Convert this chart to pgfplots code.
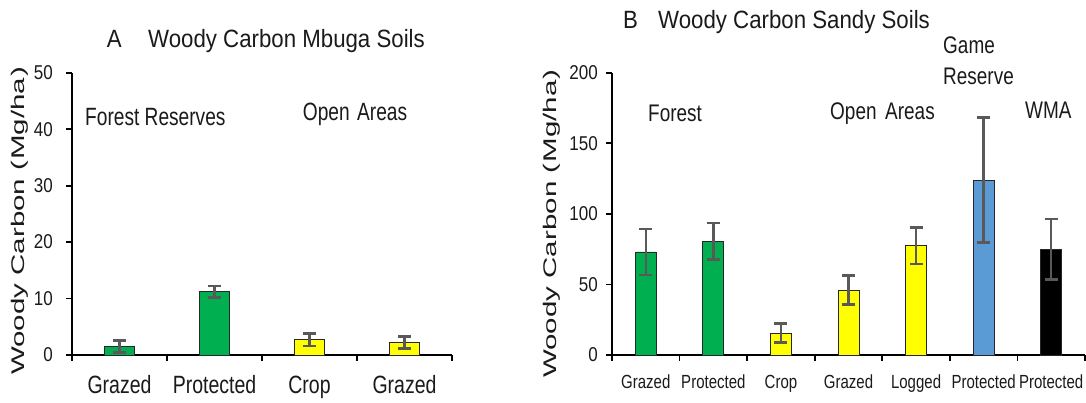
\documentclass[border=0pt]{standalone}
\usepackage{pgfplots}
\pgfplotsset{compat=1.18}
\usepackage{fontspec}
\setmainfont{Liberation Sans}
\usepackage{graphicx}

\definecolor{bgreen}{HTML}{00B050}
\definecolor{byellow}{HTML}{FFFF00}
\definecolor{bblue}{HTML}{5B9BD5}
\definecolor{errgray}{HTML}{595959}
\definecolor{txt}{HTML}{1A1A1A}

\newcommand\nt[3]{\scalebox{#2}[1]{\fontsize{#1}{#1}\selectfont #3}}
\newcommand\ylab{\scalebox{1}[0.62]{\fontsize{29.5}{29.5}\selectfont Woody Carbon (\kern1ptMg/ha\kern1pt)}}

\pgfplotsset{
 mybars/.style={
  scale only axis,
  anchor=south west,
  height=282.3pt,
  ymin=0, xmin=0,
  axis x line*=bottom, axis y line*=left,
  axis line style={-, line width=1.8pt, black},
  every tick/.style={black, line width=1.8pt},
  tick align=outside,
  major tick length=6pt,
  xticklabels={},
  ybar, bar shift=0pt,
  /pgf/number format/assume math mode=true,
  yticklabel={\nt{20}{0.85}{\pgfmathprintnumber{\tick}}},
  yticklabel style={anchor=east, inner sep=0pt, text=txt},
  clip=false,
 },
 barstyle/.style={fill=#1, draw=black!85, line width=0.9pt,
   error bars/.cd, y dir=both, y explicit,
   error bar style={line width=2.5pt, errgray},
   error mark options={rotate=90, mark size=6.5pt, line width=2.5pt, errgray}},
}

\begin{document}
\begin{tikzpicture}[x=1pt,y=1pt]
\useasboundingbox (0,0) rectangle (1086,403);

% ---------- Panel A ----------
\begin{axis}[mybars,
  at={(72pt,48pt)}, width=380pt,
  xmax=4, ymax=50,
  ytick={0,10,20,30,40,50},
  xtick={0,1,2,3,4},
  yticklabel style={xshift=-13pt},
  bar width=0.316,
  extra x ticks={0.5,1.5,2.5,3.5},
  extra x tick labels={\nt{25}{0.78}{Grazed},\nt{25}{0.78}{Protected},\nt{25}{0.78}{Crop},\nt{25}{0.78}{Grazed}},
  extra x tick style={major tick length=0pt, xticklabel style={anchor=base, inner sep=0pt, text=txt, yshift=-39pt}},
  ylabel={\ylab},
  ylabel style={at={(axis description cs:-0.137,0.475)}, anchor=center, inner sep=0pt, text=txt},
]
\addplot[barstyle=bgreen] coordinates {(0.5,1.5) +- (0,1.1) (1.5,11.2) +- (0,1.05)};
\addplot[barstyle=byellow] coordinates {(2.5,2.7) +- (0,1.1) (3.5,2.2) +- (0,1.05)};
\end{axis}

% ---------- Panel B ----------
\begin{axis}[mybars,
  at={(612pt,48pt)}, width=473pt,
  xmax=7, ymax=200,
  ytick={0,50,100,150,200},
  xtick={0,1,2,3,4,5,6,7},
  yticklabel style={xshift=-8pt},
  bar width=0.31,
  extra x ticks={0.5,1.5,2.5,3.5,4.5,5.5,6.5},
  extra x tick labels={\nt{19}{0.79}{Grazed},\nt{19}{0.79}{Protected},\nt{19}{0.79}{Crop},\nt{19}{0.79}{Grazed},\nt{19}{0.79}{Logged},\nt{19}{0.79}{Protected},\nt{19}{0.79}{Protected}},
  extra x tick style={major tick length=0pt, xticklabel style={anchor=base, inner sep=0pt, text=txt, yshift=-33.5pt}},
  ylabel={\ylab},
  ylabel style={at={(axis description cs:-0.127,0.465)}, anchor=center, inner sep=0pt, text=txt},
]
\addplot[barstyle=bgreen] coordinates {(0.5,73) +- (0,16.2) (1.5,80.5) +- (0,13)};
\addplot[barstyle=byellow] coordinates {(2.5,15.5) +- (0,6.7) (3.5,46) +- (0,10.3) (4.5,77.5) +- (0,13)};
\addplot[barstyle=bblue] coordinates {(5.5,124) +- (0,44.3)};
\addplot[barstyle=black] coordinates {(6.5,75) +- (0,21.5)};
\end{axis}

% ---------- titles and group labels ----------
\begin{scope}[every node/.style={anchor=base west, inner sep=0pt, text=txt}]
\node at (106.7,355.3) {\nt{25}{0.89}{A}};
\node at (148,355.3) {\nt{25}{0.89}{Woody Carbon Mbuga Soils}};
\node at (85,277) {\nt{25}{0.765}{Forest Reserves}};
\node at (302.7,282.5) {\nt{25}{0.765}{Open}};
\node at (357,282.5) {\nt{25}{0.765}{Areas}};

\node at (623,374.7) {\nt{25}{0.89}{B}};
\node at (658,374.7) {\nt{25}{0.89}{Woody Carbon Sandy Soils}};
\node at (648,281.3) {\nt{24}{0.79}{Forest}};
\node at (830,283) {\nt{24}{0.79}{Open}};
\node at (885,283) {\nt{24}{0.79}{Areas}};
\node at (943,349.7) {\nt{24}{0.79}{Game}};
\node at (943,318) {\nt{24}{0.79}{Reserve}};
\node at (1025,284.7) {\nt{24}{0.79}{WMA}};
\end{scope}
\end{tikzpicture}
\end{document}
